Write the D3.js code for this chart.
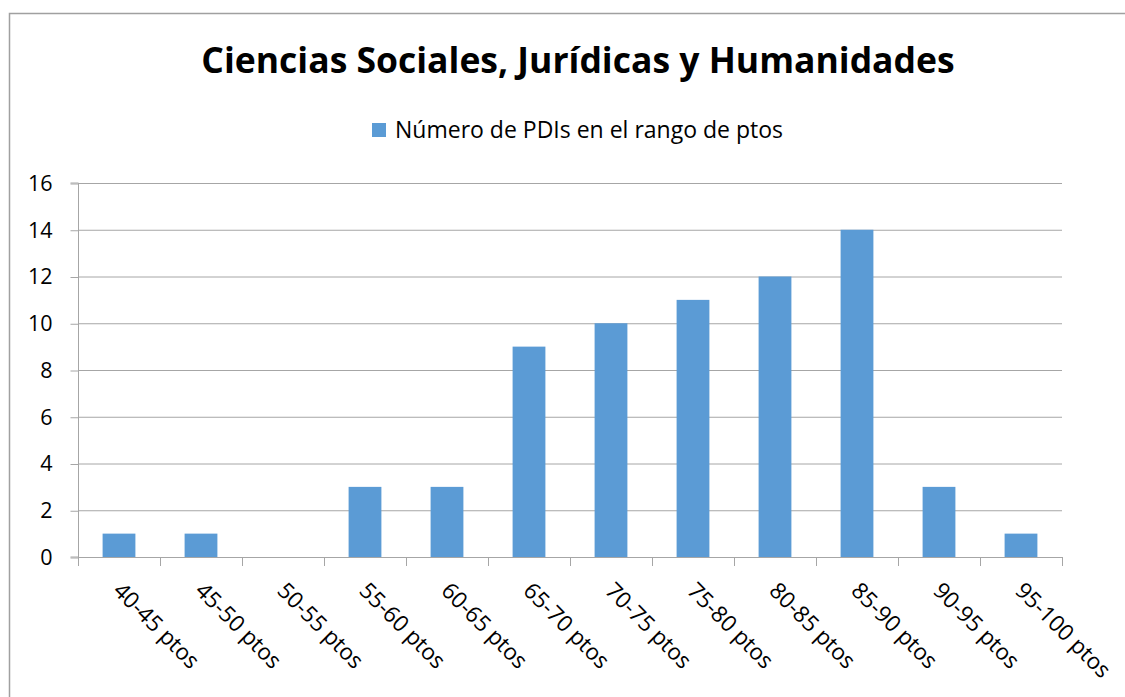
<!DOCTYPE html>
<html>
<head>
<meta charset="utf-8">
<script src="https://cdn.jsdelivr.net/npm/d3@7"></script>
<style>
	body { margin: 0; background: #fff; }
	svg text { font-family: "Open Sans", "Noto Sans", sans-serif; fill: #000; }
</style>
</head>
<body>
<svg id="chart" width="1125" height="697"></svg>
<script>
var categories = ["40-45 ptos", "45-50 ptos", "50-55 ptos", "55-60 ptos", "60-65 ptos", "65-70 ptos",
				  "70-75 ptos", "75-80 ptos", "80-85 ptos", "85-90 ptos", "90-95 ptos", "95-100 ptos"];
var values     = [1, 1, 0, 3, 3, 9, 10, 11, 12, 14, 3, 1];
var yTicks     = [0, 2, 4, 6, 8, 10, 12, 14, 16];
var seriesName = "Número de PDIs en el rango de ptos";
var titleText  = "Ciencias Sociales, Jurídicas y Humanidades";

var barColor  = "#5B9BD5";
var gridColor = "#A6A6A6";

var svg = d3.select("#chart");

// frame of the chart object
svg.append("rect")
	.attr("x", 9.5).attr("y", 13.5)
	.attr("width", 1200).attr("height", 800)
	.attr("fill", "#fff")
	.attr("stroke", "#A0A0A0")
	.attr("stroke-width", 1.5);

var plot = { left: 78, right: 1062, top: 183, bottom: 557 };

var x = d3.scaleBand()
	.domain(categories)
	.range([plot.left, plot.right])
	.paddingInner(0.6)
	.paddingOuter(0.3);

var y = d3.scaleLinear()
	.domain([0, 16])
	.range([plot.bottom, plot.top]);

//title
svg.append("text")
	.attr("x", 578).attr("y", 73)
	.attr("text-anchor", "middle")
	.style("font-weight", "bold")
	.style("font-size", "35.5px")
	.text(titleText);

//legend
var legend = svg.append("g").attr("transform", "translate(372,123)");
legend.append("rect")
	.attr("width", 14).attr("height", 14)
	.attr("fill", barColor);
legend.append("text")
	.attr("x", 23).attr("y", 15)
	.style("font-size", "23px")
	.text(seriesName);

//gridlines
svg.append("g").selectAll("line")
	.data(yTicks.filter(function(d){ return d > 0; }))
	.enter().append("line")
	.attr("x1", plot.left).attr("x2", plot.right)
	.attr("y1", function(d){ return y(d) + 0.5; })
	.attr("y2", function(d){ return y(d) + 0.5; })
	.attr("stroke", gridColor)
	.attr("stroke-width", 1);

//y axis
var yAxis = svg.append("g")
	.attr("transform", "translate(" + (plot.left + 0.5) + ",0.5)")
	.call(d3.axisLeft(y).tickValues(yTicks).tickSize(8).tickPadding(18).tickFormat(d3.format("d")));
yAxis.select(".domain").attr("stroke", gridColor).attr("d", "M-8," + (plot.top - 0.5) + "H0V" + (plot.bottom - 0.5) + "H-8");
yAxis.selectAll(".tick line").attr("stroke", gridColor);
yAxis.selectAll(".tick text")
	.style("font-size", "21.5px")
	.attr("fill", "#000");

//bars
svg.append("g").selectAll("rect")
	.data(values)
	.enter().append("rect")
	.attr("x", function(d, i){ return x(categories[i]); })
	.attr("y", function(d){ return y(d); })
	.attr("width", x.bandwidth())
	.attr("height", function(d){ return y(0) - y(d); })
	.attr("fill", barColor);

//x axis: ticks at category boundaries
var boundaries = categories.map(function(c){ return x(c) - x.step() * x.paddingInner() / 2; });
boundaries.push(plot.right);
var xAxis = svg.append("g");
xAxis.append("line")
	.attr("x1", plot.left).attr("x2", plot.right)
	.attr("y1", plot.bottom + 0.5).attr("y2", plot.bottom + 0.5)
	.attr("stroke", gridColor);
xAxis.selectAll("line.tick")
	.data(boundaries)
	.enter().append("line").attr("class", "tick")
	.attr("x1", function(d){ return Math.round(d) + 0.5; })
	.attr("x2", function(d){ return Math.round(d) + 0.5; })
	.attr("y1", plot.bottom).attr("y2", plot.bottom + 9)
	.attr("stroke", gridColor);

xAxis.selectAll("text")
	.data(categories)
	.enter().append("text")
	.attr("transform", function(d){
		var cx = x(d) + x.bandwidth() / 2 - 7;
		return "translate(" + cx + "," + (plot.bottom + 35) + ") rotate(45)";
	})
	.style("font-size", "22.5px")
	.text(function(d){ return d; });
</script>
</body>
</html>
